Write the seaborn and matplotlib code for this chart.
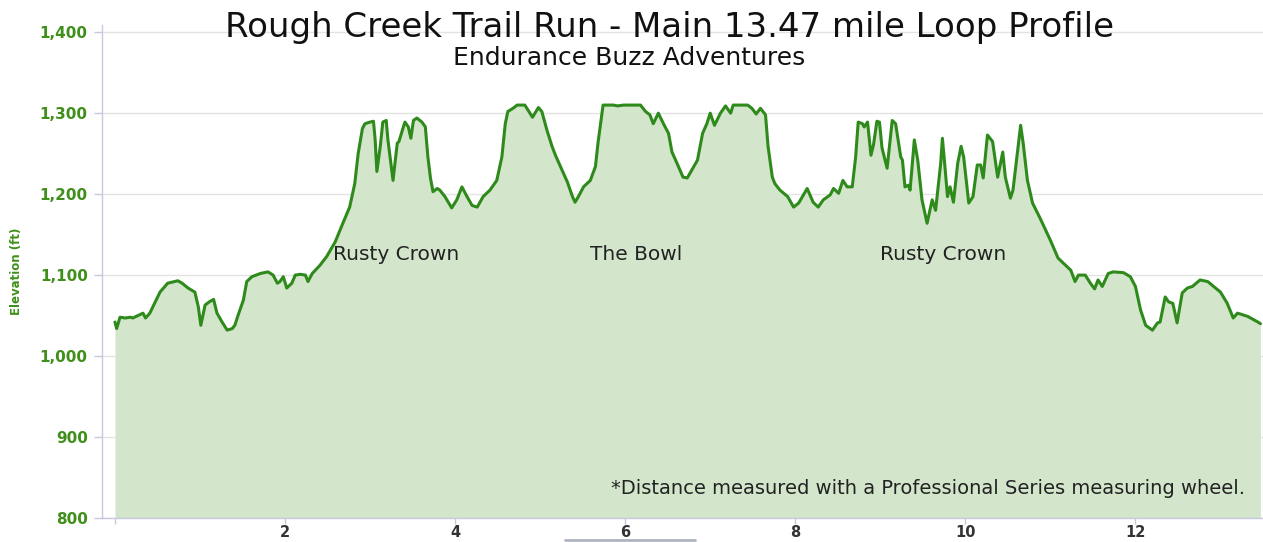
import matplotlib
matplotlib.use("Agg")
import matplotlib.pyplot as plt
import seaborn as sns
import pandas as pd

# ---- data (miles, elevation ft) ----
miles = [0.00, 0.02, 0.06, 0.12, 0.18, 0.21, 0.29, 0.33, 0.36, 0.41, 0.53, 0.62, 0.74, 0.79, 0.86, 0.94,
         0.98, 1.01, 1.06, 1.11, 1.16, 1.20, 1.26, 1.32, 1.38, 1.41, 1.45, 1.51, 1.55, 1.61, 1.71, 1.80,
         1.86, 1.91, 1.94, 1.98, 2.02, 2.08, 2.12, 2.18, 2.24, 2.27, 2.32, 2.41, 2.49, 2.59, 2.68, 2.76,
         2.82, 2.86, 2.91, 2.94, 3.00, 3.04, 3.06, 3.08, 3.12, 3.15, 3.19, 3.21, 3.27, 3.32, 3.34, 3.38,
         3.41, 3.45, 3.48, 3.51, 3.55, 3.61, 3.65, 3.68, 3.71, 3.74, 3.79, 3.82, 3.88, 3.96, 4.02, 4.08,
         4.14, 4.20, 4.26, 4.33, 4.41, 4.49, 4.55, 4.59, 4.62, 4.68, 4.73, 4.82, 4.91, 4.98, 5.02, 5.08,
         5.14, 5.18, 5.24, 5.32, 5.38, 5.41, 5.45, 5.51, 5.59, 5.65, 5.68, 5.72, 5.74, 5.86, 5.91, 5.98,
         6.18, 6.24, 6.29, 6.33, 6.39, 6.45, 6.51, 6.55, 6.61, 6.68, 6.73, 6.79, 6.85, 6.91, 6.96, 7.00,
         7.05, 7.12, 7.18, 7.24, 7.27, 7.44, 7.49, 7.54, 7.59, 7.65, 7.68, 7.73, 7.76, 7.82, 7.91, 7.98,
         8.04, 8.14, 8.21, 8.27, 8.33, 8.41, 8.45, 8.51, 8.56, 8.61, 8.67, 8.71, 8.74, 8.79, 8.81, 8.85,
         8.89, 8.92, 8.96, 8.99, 9.02, 9.08, 9.14, 9.18, 9.24, 9.26, 9.29, 9.33, 9.35, 9.40, 9.44, 9.49,
         9.55, 9.61, 9.65, 9.71, 9.73, 9.76, 9.79, 9.82, 9.86, 9.91, 9.95, 9.98, 10.04, 10.09, 10.14, 10.18,
         10.21, 10.26, 10.32, 10.38, 10.44, 10.47, 10.53, 10.56, 10.65, 10.68, 10.73, 10.79, 10.88, 11.00,
         11.09, 11.24, 11.29, 11.33, 11.41, 11.47, 11.52, 11.56, 11.61, 11.68, 11.74, 11.86, 11.94, 12.00,
         12.06, 12.12, 12.20, 12.26, 12.29, 12.35, 12.39, 12.44, 12.49, 12.55, 12.61, 12.67, 12.76, 12.85,
         12.92, 13.00, 13.08, 13.15, 13.20, 13.32, 13.44, 13.47]
elevation = [1042, 1034, 1048, 1047, 1048, 1047, 1051, 1053, 1047, 1053, 1079, 1090, 1093, 1090, 1084, 1079,
             1061, 1038, 1063, 1067, 1070, 1053, 1042, 1032, 1034, 1038, 1051, 1069, 1092, 1098, 1102, 1104,
             1100, 1090, 1092, 1098, 1084, 1090, 1100, 1101, 1100, 1092, 1102, 1112, 1123, 1141, 1164, 1184,
             1213, 1250, 1281, 1287, 1289, 1290, 1267, 1228, 1259, 1289, 1291, 1267, 1217, 1263, 1265, 1279,
             1289, 1283, 1269, 1291, 1294, 1289, 1283, 1246, 1220, 1203, 1207, 1205, 1197, 1183, 1193, 1209,
             1197, 1186, 1184, 1197, 1205, 1217, 1246, 1287, 1302, 1306, 1310, 1310, 1295, 1307, 1302, 1279,
             1259, 1248, 1234, 1215, 1197, 1190, 1197, 1209, 1217, 1234, 1263, 1295, 1310, 1310, 1309, 1310,
             1310, 1302, 1298, 1287, 1300, 1287, 1275, 1252, 1238, 1221, 1220, 1231, 1242, 1275, 1287, 1300,
             1285, 1300, 1309, 1300, 1310, 1310, 1306, 1299, 1306, 1298, 1259, 1221, 1213, 1205, 1197, 1184,
             1189, 1207, 1190, 1184, 1193, 1199, 1207, 1201, 1217, 1209, 1209, 1246, 1289, 1287, 1283, 1289,
             1248, 1261, 1290, 1289, 1257, 1232, 1291, 1287, 1246, 1242, 1209, 1211, 1205, 1267, 1242, 1193,
             1164, 1193, 1180, 1238, 1269, 1234, 1197, 1209, 1190, 1238, 1259, 1246, 1189, 1197, 1236, 1236,
             1220, 1273, 1265, 1221, 1252, 1221, 1195, 1205, 1285, 1263, 1217, 1189, 1170, 1143,
             1121, 1106, 1092, 1100, 1100, 1090, 1083, 1094, 1086, 1102, 1104, 1103, 1098, 1086,
             1057, 1038, 1032, 1041, 1042, 1073, 1067, 1065, 1041, 1078, 1084, 1086, 1094, 1092,
             1086, 1079, 1065, 1047, 1053, 1049, 1042, 1040]

x_ticks = [0, 2, 4, 6, 8, 10, 12]
x_tick_labels = ["", "2", "4", "6", "8", "10", "12"]
y_ticks = [800, 900, 1000, 1100, 1200, 1300, 1400]
y_tick_labels = ["800", "900", "1,000", "1,100", "1,200", "1,300", "1,400"]

title = "Rough Creek Trail Run - Main 13.47 mile Loop Profile"
subtitle = "Endurance Buzz Adventures"
annotations = [("Rusty Crown", 3.31), ("The Bowl", 6.13), ("Rusty Crown", 9.74)]
footnote = "*Distance measured with a Professional Series measuring wheel."

df = pd.DataFrame({"miles": miles, "elevation": elevation})

sns.set_theme(style="white")
plt.rcParams["font.family"] = ["DejaVu Sans"]

LINE = "#2f8a1c"
FILL = "#d3e6cb"
TICKGREEN = "#3f8f1a"

fig = plt.figure(figsize=(12.63, 5.42), dpi=100)
ax = fig.add_axes([0.0805, 0.0443, 0.9195, 0.9097])

ax.fill_between(df["miles"], df["elevation"], 800, color=FILL, linewidth=0, zorder=1)
sns.lineplot(data=df, x="miles", y="elevation", ax=ax, color=LINE, linewidth=2.2, zorder=3)

ax.set_xlim(-0.156, 13.5)
ax.set_ylim(800, 1409)
ax.set_xticks(x_ticks)
ax.set_xticklabels(x_tick_labels, fontsize=10.5, fontweight="bold", color="#333333")
ax.set_yticks(y_ticks)
ax.set_yticklabels(y_tick_labels, fontsize=11, fontweight="bold", color=TICKGREEN)
ax.tick_params(axis="x", length=4, width=1, color="#c8c8dc", pad=1, direction="out", bottom=True)
ax.tick_params(axis="y", length=6, width=1, color="#c8c8dc", pad=4, direction="out", left=True)
ax.set_xlabel("")
ax.set_ylabel("Elevation (ft)", fontsize=8.5, fontweight="bold", color=TICKGREEN, labelpad=12)

ax.grid(axis="y", color="#e3e3e3", linewidth=1, zorder=0)
ax.grid(axis="x", visible=False)
ax.set_axisbelow(True)
for side in ["top", "right"]:
    ax.spines[side].set_visible(False)
for side in ["left", "bottom"]:
    ax.spines[side].set_color("#c8c8e0")
    ax.spines[side].set_linewidth(1)

for text, xm in annotations:
    ax.text(xm, 1125, text, ha="center", va="center", fontsize=14.5, color="#222222", zorder=4)
ax.text(13.29, 837, footnote, ha="right", va="center", fontsize=14, color="#222222", zorder=4)

fig.text(0.530, 0.950, title, ha="center", va="center", fontsize=24.5, color="#111111")
fig.text(0.498, 0.893, subtitle, ha="center", va="center", fontsize=18, color="#111111")

fig.add_artist(plt.Line2D([565 / 1263, 695 / 1263], [0.004, 0.004], color="#b0b4c0", linewidth=2))

fig.savefig("out.png", dpi=100)
